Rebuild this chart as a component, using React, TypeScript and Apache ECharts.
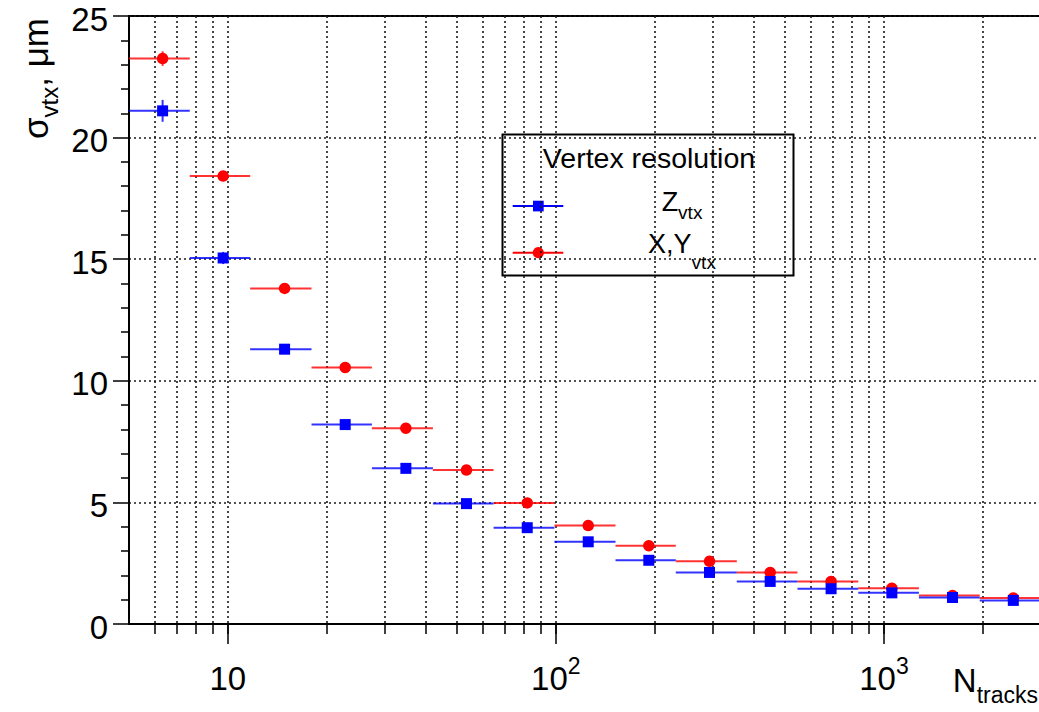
import React, { useEffect, useRef } from 'react';
import * as echarts from 'echarts';

// Bin edges (N tracks)
const binLow = [5, 7.66, 11.7, 18.0, 27.5, 42.2, 64.6, 99.0, 152, 232, 356, 545, 835, 1278, 1958];
const binHigh = [7.66, 11.7, 18.0, 27.5, 42.2, 64.6, 99.0, 152, 232, 356, 545, 835, 1278, 1958, 3000];
// Marker positions (bin centres)
const nTracks = [6.33, 9.68, 14.9, 22.8, 34.9, 53.4, 81.8, 125.5, 192, 294, 450, 690, 1057, 1618, 2479];
// Z vertex resolution (µm)
const sigmaZ = [21.1, 15.05, 11.3, 8.2, 6.4, 4.95, 3.96, 3.38, 2.62, 2.12, 1.75, 1.45, 1.28, 1.09, 0.97];
const sigmaZErr = [0.45, 0.25, 0.12, 0.08, 0.06, 0.05, 0.04, 0.03, 0.03, 0.02, 0.02, 0.02, 0.02, 0.02, 0.02];
// X,Y vertex resolution (µm)
const sigmaXY = [23.25, 18.42, 13.8, 10.55, 8.05, 6.33, 4.98, 4.05, 3.22, 2.58, 2.12, 1.75, 1.47, 1.17, 1.07];
const sigmaXYErr = [0.3, 0.15, 0.1, 0.07, 0.05, 0.04, 0.03, 0.03, 0.02, 0.02, 0.02, 0.02, 0.02, 0.02, 0.02];

const majorTicks = [10, 100, 1000];
const minorTicks = [6, 7, 8, 9, 10, 20, 30, 40, 50, 60, 70, 80, 90, 100, 200, 300, 400, 500, 600, 700, 800, 900, 1000, 2000];
const yMin = 0;
const yMax = 25;
const yStep = 5;

const FONT = '"Liberation Sans", Arial, Helvetica, sans-serif';
const BLUE = '#0000ff';
const RED = '#ff0000';

function errData(ys: number[], errs: number[]) {
  return nTracks.map((x, i) => [x, ys[i], binLow[i], binHigh[i], errs[i]]);
}

function makeRender(color: string) {
  return (params: any, api: any) => {
    const x = api.value(0);
    const y = api.value(1);
    const lo = api.value(2);
    const hi = api.value(3);
    const e = api.value(4);
    const pL = api.coord([lo, y]);
    const pH = api.coord([hi, y]);
    const pT = api.coord([x, y + e]);
    const pB = api.coord([x, y - e]);
    const style = { stroke: color, lineWidth: 2, opacity: 0.8 };
    return {
      type: 'group',
      children: [
        { type: 'line', shape: { x1: pL[0], y1: pL[1], x2: pH[0], y2: pH[1] }, style },
        { type: 'line', shape: { x1: pT[0], y1: pT[1], x2: pB[0], y2: pB[1] }, style },
      ],
    };
  };
}

export default function App() {
  const ref = useRef<HTMLDivElement>(null);
  useEffect(() => {
    const chart = echarts.init(ref.current!, null, { renderer: 'svg' });
    const dotted = { color: '#1a1a1a', width: 1.6, type: [2, 3] as any };
    const option: any = {
      animation: false,
      backgroundColor: '#fff',
      textStyle: { fontFamily: FONT },
      grid: {
        left: 129, top: 16, right: -1.5, bottom: 88,
        show: true, borderColor: '#000', borderWidth: 2, backgroundColor: 'transparent',
        containLabel: false, outerBoundsMode: 'none',
      },
      xAxis: [
        {
          type: 'log', logBase: 10, min: 5, max: 3000,
          position: 'bottom',
          axisLine: { show: true, onZero: false, lineStyle: { color: '#000', width: 2 } },
          axisTick: { show: true, customValues: majorTicks, length: 20, inside: false, lineStyle: { color: '#000', width: 1.5 } },
          axisLabel: {
            show: true, customValues: majorTicks, margin: 30, color: '#000', fontFamily: FONT, fontSize: 33,
            formatter: (v: number) => {
              const p = Math.round(Math.log10(v));
              return p === 1 ? '{n|10}' : '{n|10}{s|' + p + '}';
            },
            rich: {
              n: { fontSize: 33, fontFamily: FONT, color: '#000', padding: [8, 0, 0, 0] },
              s: { fontSize: 23, fontFamily: FONT, color: '#000', verticalAlign: 'top' },
            },
          },
          splitLine: { show: false },
          name: '{m|N}{s|tracks}',
          nameLocation: 'end',
          nameGap: -2.5,
          nameMoveOverlap: false,
          nameTextStyle: {
            align: 'right', verticalAlign: 'top', padding: [40, 0, 0, 0],
            rich: {
              m: { fontSize: 33, fontFamily: FONT, color: '#000', padding: [0, 0, 9, 0], verticalAlign: 'bottom' },
              s: { fontSize: 23, fontFamily: FONT, color: '#000', verticalAlign: 'bottom' },
            },
          },
        },
        {
          type: 'log', logBase: 10, min: 5, max: 3000,
          position: 'bottom',
          axisLine: { show: false, onZero: false },
          axisTick: { show: true, customValues: minorTicks, length: 10, inside: false, lineStyle: { color: '#000', width: 1.5 } },
          axisLabel: { show: false },
          splitLine: { show: true, lineStyle: dotted },
        },
      ],
      yAxis: {
        type: 'value', min: yMin, max: yMax, interval: yStep,
        axisLine: { show: true, onZero: false, lineStyle: { color: '#000', width: 2 } },
        axisTick: { show: true, length: 16, inside: false, lineStyle: { color: '#000', width: 1.5 } },
        minorTick: { show: true, splitNumber: 5, length: 8, lineStyle: { color: '#000', width: 1.5 } },
        axisLabel: {
          color: '#000', fontFamily: FONT, fontSize: 33, margin: 21,
          formatter: (v: number) => '{v|' + v + '}',
          rich: { v: { fontSize: 33, fontFamily: FONT, color: '#000', padding: [6, 0, 0, 0] } },
        },
        splitLine: { show: true, lineStyle: dotted },
        name: '{m|σ}{s|vtx}{m|, μm}',
        nameLocation: 'end',
        nameRotate: 90,
        nameGap: -2,
        nameMoveOverlap: false,
        nameTextStyle: {
          align: 'right', verticalAlign: 'bottom', padding: [0, 0, 68, 0],
          rich: {
            m: { fontSize: 35, fontFamily: FONT, color: '#000', padding: [0, 0, 8, 0], verticalAlign: 'bottom' },
            s: { fontSize: 24, fontFamily: FONT, color: '#000', verticalAlign: 'bottom' },
          },
        },
      },
      series: [
        {
          name: 'X,Y vtx err', type: 'custom', xAxisIndex: 0, yAxisIndex: 0,
          renderItem: makeRender(RED), data: errData(sigmaXY, sigmaXYErr), z: 3,
        },
        {
          name: 'X,Y vtx', type: 'scatter', xAxisIndex: 0, yAxisIndex: 0,
          symbol: 'circle', symbolSize: 11.5, itemStyle: { color: RED, opacity: 1 },
          data: nTracks.map((x, i) => [x, sigmaXY[i]]), z: 4,
        },
        {
          name: 'Z vtx err', type: 'custom', xAxisIndex: 0, yAxisIndex: 0,
          renderItem: makeRender(BLUE), data: errData(sigmaZ, sigmaZErr), z: 5,
        },
        {
          name: 'Z vtx', type: 'scatter', xAxisIndex: 0, yAxisIndex: 0,
          symbol: 'rect', symbolSize: 11, itemStyle: { color: BLUE, opacity: 1 },
          data: nTracks.map((x, i) => [x, sigmaZ[i]]), z: 6,
        },
      ],
      graphic: [
        {
          type: 'group', z: 100,
          children: [
            { type: 'rect', shape: { x: 502.5, y: 134.5, width: 291, height: 141 }, style: { fill: '#fff', stroke: '#000', lineWidth: 2 } },
            {
              type: 'text', x: 649, y: 158,
              style: { text: 'Vertex resolution', fill: '#000', font: '28.5px ' + FONT, textAlign: 'center', textVerticalAlign: 'middle', align: 'center', verticalAlign: 'middle' },
            },
            { type: 'line', shape: { x1: 512.7, y1: 206, x2: 563.3, y2: 206 }, style: { stroke: BLUE, lineWidth: 2 } },
            { type: 'rect', shape: { x: 533, y: 200.7, width: 10.7, height: 10.7 }, style: { fill: BLUE } },
            { type: 'line', shape: { x1: 512.7, y1: 252.7, x2: 563.3, y2: 252.7 }, style: { stroke: RED, lineWidth: 2 } },
            { type: 'circle', shape: { cx: 538.3, cy: 252.7, r: 5.6 }, style: { fill: RED } },
            {
              type: 'text', x: 682, y: 205.3,
              style: {
                text: '{m|Z}{s|vtx}', fill: '#000', textAlign: 'center', textVerticalAlign: 'middle', align: 'center', verticalAlign: 'middle',
                rich: {
                  m: { fontSize: 27, fontFamily: FONT, color: '#000', padding: [0, 0, 6, 0], verticalAlign: 'bottom' },
                  s: { fontSize: 19, fontFamily: FONT, color: '#000', verticalAlign: 'bottom' },
                },
              },
            },
            {
              type: 'text', x: 682, y: 251,
              style: {
                text: '{m|X,Y}{s|vtx}', fill: '#000', textAlign: 'center', textVerticalAlign: 'middle', align: 'center', verticalAlign: 'middle',
                rich: {
                  m: { fontSize: 27, fontFamily: FONT, color: '#000', padding: [0, 0, 15, 0], verticalAlign: 'bottom' },
                  s: { fontSize: 19, fontFamily: FONT, color: '#000', verticalAlign: 'bottom' },
                },
              },
            },
          ],
        },
      ],
    };
    chart.setOption(option);
    return () => chart.dispose();
  }, []);
  return <div ref={ref} style={{ position: 'fixed', left: 0, top: 0, width: 1039, height: 712, background: '#fff' }} />;
}
